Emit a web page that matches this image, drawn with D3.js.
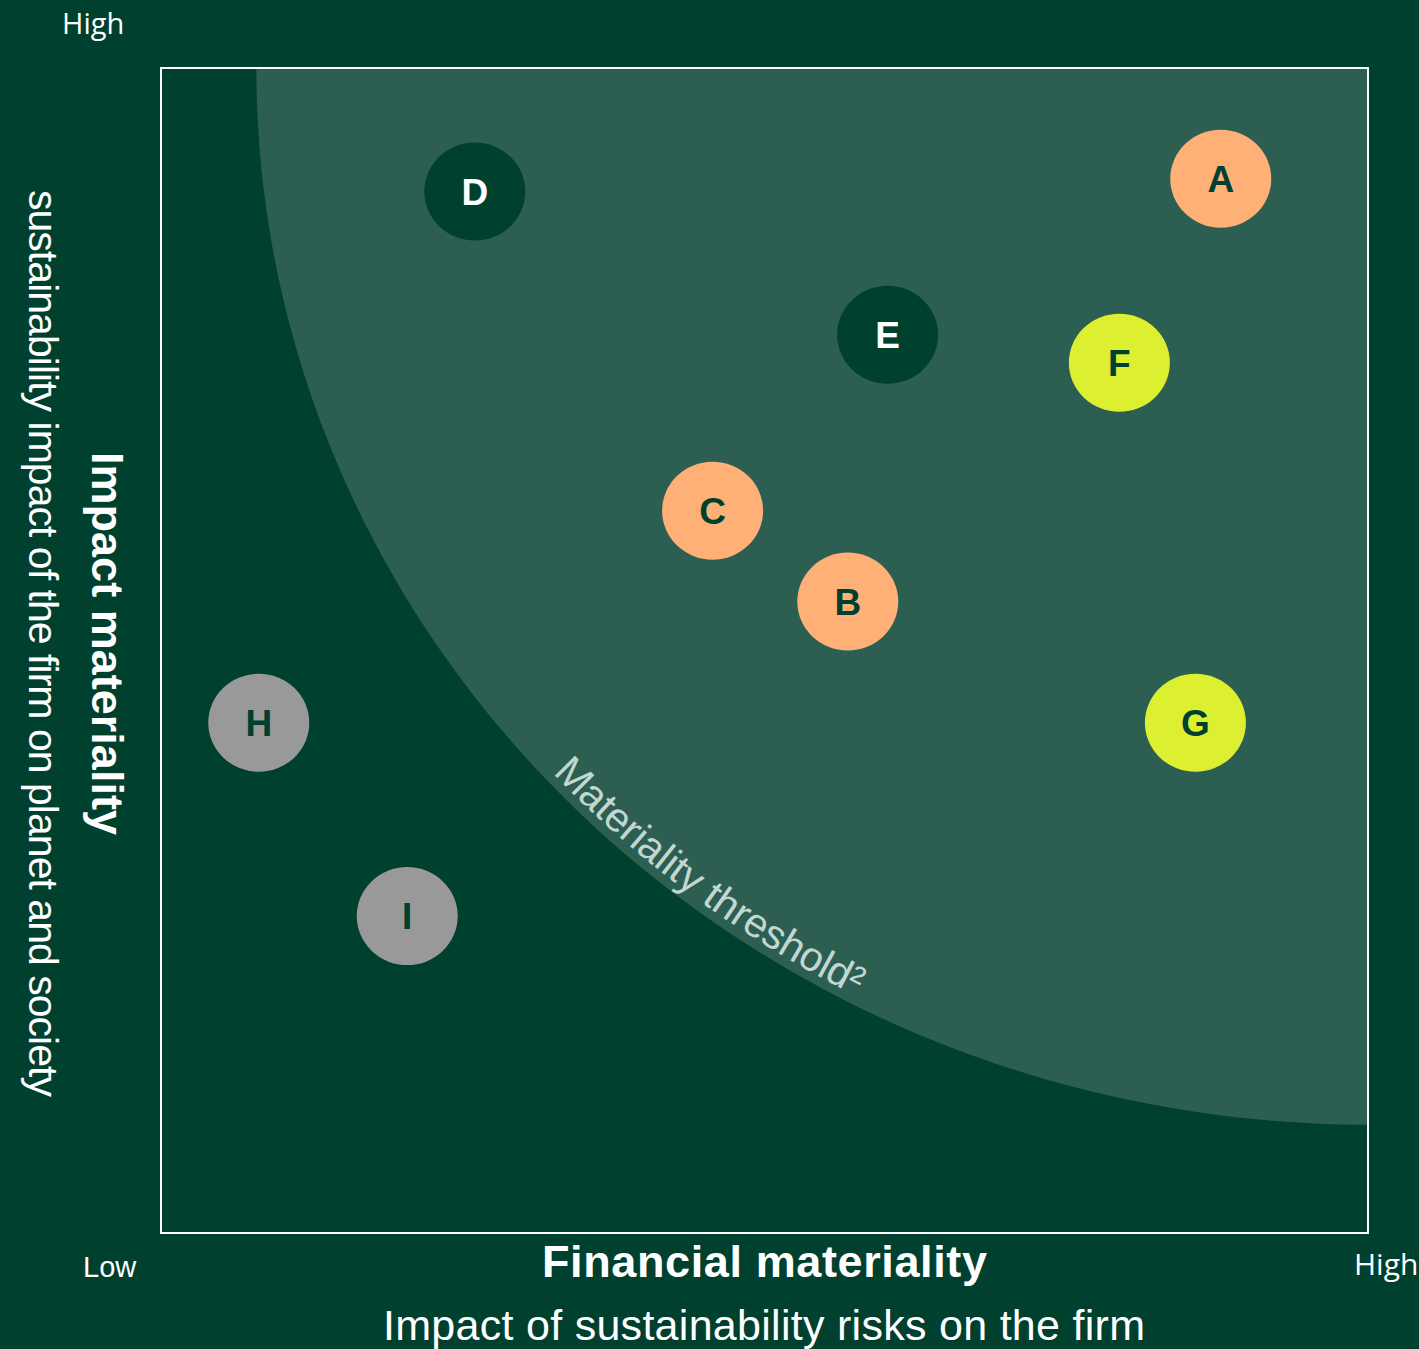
<!DOCTYPE html>
<html><head><meta charset="utf-8">
<script src="https://cdn.jsdelivr.net/npm/d3@7"></script>
<style>html,body{margin:0;padding:0;background:#00402f;}svg{display:block;}</style>
</head><body>
<svg id="c" width="1419" height="1349"></svg>
<script>
// ---- data ----
const labels = ["A","B","C","D","E","F","G","H","I"];
const xValues = [8.78, 5.69, 4.57, 2.60, 6.02, 7.94, 8.57, 0.81, 2.04];
const yValues = [9.05, 5.42, 6.20, 8.94, 7.71, 7.47, 4.38, 4.38, 2.72];
const groups  = ["orange","orange","orange","dark","dark","lime","lime","grey","grey"];
// threshold curve: meets the top edge at x = thresholdTopX, the right edge at y = thresholdRightY
const thresholdTopX = 0.79;
const thresholdRightY = 0.93;
const axisLow = "Low", axisHigh = "High";

// ---- styling ----
const W = 1419, H = 1349;
const bg = "#00402f", region = "#2d5e52";
const fillColor = {orange:"#ffb077", dark:"#00402f", lime:"#dcef30", grey:"#999999"};
const textColor = {orange:"#00402f", dark:"#ffffff", lime:"#00402f", grey:"#00402f"};

const svg = d3.select("#c");
svg.append("rect").attr("width",W).attr("height",H).attr("fill",bg);

const x = d3.scaleLinear().domain([0,10]).range([161,1368]);
const y = d3.scaleLinear().domain([0,10]).range([1233,68]);

// threshold region
const cx = x(10), cy = y(10);
const rx = cx - x(thresholdTopX), ry = y(thresholdRightY) - cy;
const arcD = `M${x(thresholdTopX)},${cy} A${rx},${ry} 0 0 0 ${cx},${y(thresholdRightY)}`;
svg.append("path").attr("d", arcD + ` L${cx},${cy} Z`).attr("fill", region);
const tp = svg.append("path").attr("id","thr").attr("d", arcD).attr("fill","none");

// label along curve
const node = tp.node();
const total = node.getTotalLength();
let lo = 0, hi = total;
for (let i=0;i<40;i++){ const m=(lo+hi)/2; if (node.getPointAtLength(m).x < 546) lo=m; else hi=m; }
svg.append("text")
  .attr("font-family","Liberation Sans, Arial, sans-serif")
  .attr("font-size",41).attr("fill","#c3d7d1")
  .append("textPath").attr("href","#thr").attr("startOffset", lo)
  .append("tspan").attr("dy",-9).text("Materiality threshold\u00B2");

// frame
svg.append("rect").attr("x",x(0)).attr("y",y(10)).attr("width",x(10)-x(0)).attr("height",y(0)-y(10))
  .attr("fill","none").attr("stroke","#ffffff").attr("stroke-width",2);

// points
const pts = labels.map((l,i)=>({l, x:xValues[i], y:yValues[i], g:groups[i]}));
const gp = svg.append("g").selectAll("g").data(pts).join("g")
  .attr("transform", d=>`translate(${x(d.x)},${y(d.y)})`);
gp.append("ellipse").attr("rx",50.5).attr("ry",49).attr("fill",d=>fillColor[d.g]);
gp.append("text").attr("text-anchor","middle").attr("dy","0.36em")
  .attr("font-family","Liberation Sans, Arial, sans-serif").attr("font-weight","bold")
  .attr("font-size",37).attr("fill",d=>textColor[d.g]).text(d=>d.l);

// axis texts
const sans = "Liberation Sans, Arial, sans-serif";
svg.append("text").attr("x",62).attr("y",34).attr("font-family","Open Sans, sans-serif")
  .attr("font-size",29).attr("fill","#fff").text(axisHigh);
svg.append("text").attr("x",83).attr("y",1277).attr("font-family",sans)
  .attr("font-size",29).attr("fill","#fff").text(axisLow);
svg.append("text").attr("x",1354).attr("y",1275).attr("font-family","Open Sans, sans-serif")
  .attr("font-size",30).attr("fill","#fff").text(axisHigh);

svg.append("text").attr("x",542).attr("y",1277).attr("font-family",sans).attr("font-weight","bold")
  .attr("font-size",45).attr("fill","#fff").attr("textLength",445).text("Financial materiality");
svg.append("text").attr("x",383).attr("y",1340).attr("font-family",sans)
  .attr("font-size",43).attr("fill","#fff").attr("textLength",762).text("Impact of sustainability risks on the firm");

svg.append("text").attr("transform","translate(92,452) rotate(90)").attr("font-family",sans).attr("font-weight","bold")
  .attr("font-size",45).attr("fill","#fff").attr("textLength",383).text("Impact materiality");
svg.append("text").attr("transform","translate(29,190) rotate(90)").attr("font-family",sans)
  .attr("font-size",41).attr("fill","#fff").attr("textLength",907).text("sustainability impact of the firm on planet and society");
</script>
</body></html>
